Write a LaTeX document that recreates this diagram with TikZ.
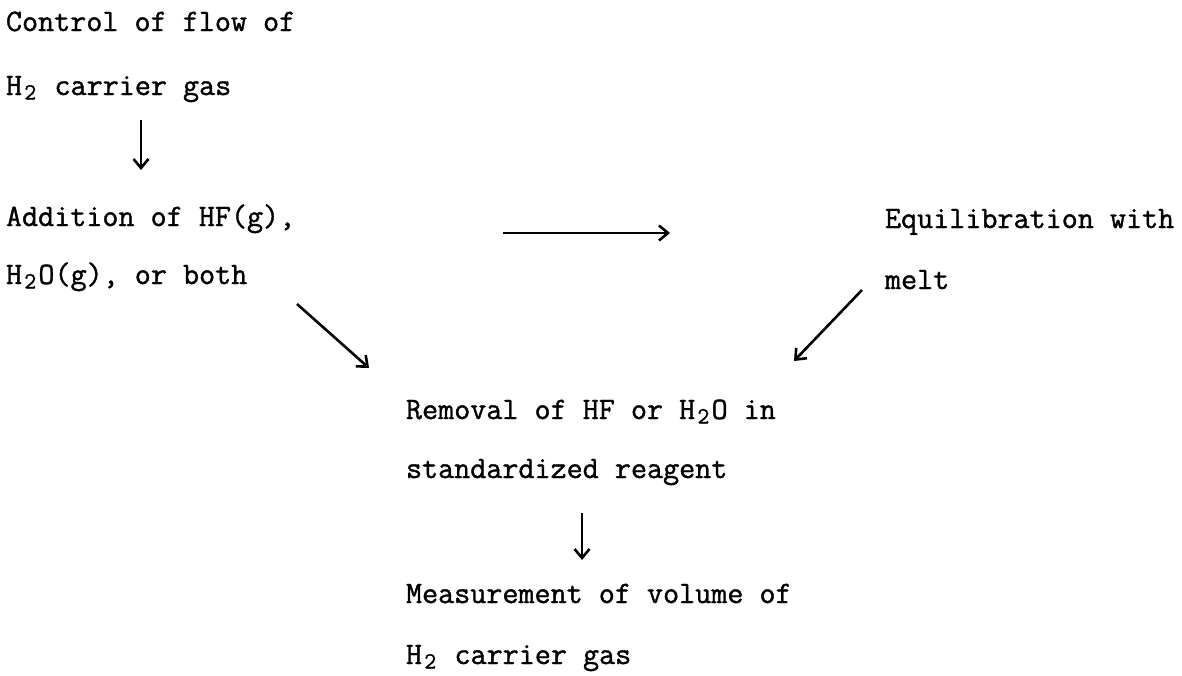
\documentclass[tikz,border=0pt]{standalone}
\usepackage{graphicx}
\usepackage{fontspec}
\newfontfamily\typew{Latin Modern Mono}[FakeBold=1.2]
\usetikzlibrary{arrows.meta}
\newcommand\subtwo{\makebox[0.525em][c]{\raisebox{-0.14em}{\scalebox{0.74}{2}}}}
\tikzset{
  txt/.style={anchor=base west, inner sep=0pt, outer sep=0pt, font=\typew\fontsize{31.2}{36}\selectfont},
  flow/.style={line width=2.6pt, -{Straight Barb[length=9pt,width=15pt,line width=2.6pt]}}
}
\begin{document}
\begin{tikzpicture}[x=1pt,y=-1pt]
\useasboundingbox (0,0) rectangle (1182,675);
% left column
\node[txt] (ctrlA) at (6,31) {Control of flow of};
\node[txt] (ctrlB) at (6,95) {H\subtwo{} carrier gas};
\node[txt] (addA) at (6,226) {Addition of HF(g),};
\node[txt] (addB) at (6,284) {H\subtwo{}O(g), or both};
% right column
\node[txt] (eqA) at (885,228) {Equilibration with};
\node[txt] (eqB) at (885,289) {melt};
% bottom column
\node[txt] (remA) at (406,419) {Removal of HF or H\subtwo{}O in};
\node[txt] (remB) at (406,478) {standardized reagent};
\node[txt] (meaA) at (406,603) {Measurement of volume of};
\node[txt] (meaB) at (406,664) {H\subtwo{} carrier gas};
% connector ends
\coordinate (c1s) at (141,120);
\coordinate (c1e) at (141,170);
\coordinate (c2s) at (503,233);
\coordinate (c2e) at (670,233);
\coordinate (c3s) at (297,304);
\coordinate (c3e) at (369,368);
\coordinate (c4s) at (862,290);
\coordinate (c4e) at (794,361);
\coordinate (c5s) at (582,513);
\coordinate (c5e) at (582,560);
\draw[flow] (c1s) -- (c1e);
\draw[flow] (c2s) -- (c2e);
\draw[flow] (c3s) -- (c3e);
\draw[flow] (c4s) -- (c4e);
\draw[flow] (c5s) -- (c5e);
\end{tikzpicture}
\end{document}
